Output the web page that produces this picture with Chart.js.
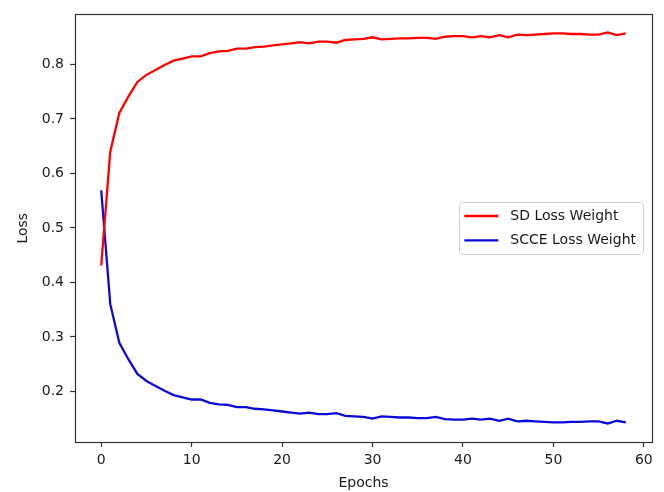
<!DOCTYPE html>
<html>
<head>
<meta charset="utf-8">
<script src="https://cdn.jsdelivr.net/npm/chart.js@4.4.1/dist/chart.umd.min.js"></script>
<style>
  html, body { margin: 0; padding: 0; background: #fff; }
  #wrap { width: 664px; height: 492px; }
</style>
</head>
<body>
<div id="wrap"><canvas id="lossChart" width="664" height="492"></canvas></div>
<script>
const epochs = [
  0, 1, 2, 3, 4, 5, 6, 7, 8, 9, 10, 11, 12, 13, 14, 15, 16, 17, 18, 19,
  20, 21, 22, 23, 24, 25, 26, 27, 28, 29, 30, 31, 32, 33, 34, 35, 36, 37, 38, 39,
  40, 41, 42, 43, 44, 45, 46, 47, 48, 49, 50, 51, 52, 53, 54, 55, 56, 57, 58
];

const sdWeight = [
  0.431, 0.640, 0.711, 0.741, 0.768, 0.781, 0.790, 0.799, 0.807, 0.811,
  0.815, 0.815, 0.821, 0.824, 0.825, 0.829, 0.829, 0.832, 0.833, 0.835,
  0.837, 0.839, 0.841, 0.839, 0.842, 0.842, 0.840, 0.845, 0.846, 0.847,
  0.850, 0.846, 0.847, 0.848, 0.848, 0.849, 0.849, 0.847, 0.851, 0.852,
  0.852, 0.850, 0.852, 0.850, 0.854, 0.850, 0.855, 0.854, 0.855, 0.856,
  0.857, 0.857, 0.856, 0.856, 0.855, 0.855, 0.859, 0.854, 0.857
];

const scceWeight = [
  0.569, 0.360, 0.289, 0.259, 0.232, 0.219, 0.210, 0.201, 0.193, 0.189,
  0.185, 0.185, 0.179, 0.176, 0.175, 0.171, 0.171, 0.168, 0.167, 0.165,
  0.163, 0.161, 0.159, 0.161, 0.158, 0.158, 0.160, 0.155, 0.154, 0.153,
  0.150, 0.154, 0.153, 0.152, 0.152, 0.151, 0.151, 0.153, 0.149, 0.148,
  0.148, 0.150, 0.148, 0.150, 0.146, 0.150, 0.145, 0.146, 0.145, 0.144,
  0.143, 0.143, 0.144, 0.144, 0.145, 0.145, 0.141, 0.146, 0.143
];

const xTicks = [0, 10, 20, 30, 40, 50, 60];
const yTicks = [0.2, 0.3, 0.4, 0.5, 0.6, 0.7, 0.8];

const FONT = { family: "'DejaVu Sans', sans-serif", size: 14 };
const INK = "#1a1a1a";
const LINE_W = 2.3;

const toPoints = (vals) => epochs.map((e, i) => ({ x: e, y: vals[i] }));

// axes frame on all four sides, plus a boxed legend at the right middle
const framePlugin = {
  id: "frameAndLegend",
  afterDraw(chart) {
    const { ctx, chartArea: a } = chart;
    ctx.save();
    ctx.strokeStyle = "#333";
    ctx.lineWidth = 1.2;
    ctx.strokeRect(Math.round(a.left) + 0.5, Math.round(a.top) + 0.5,
      Math.round(a.right - a.left), Math.round(a.bottom - a.top));

    ctx.font = `${FONT.size}px ${FONT.family}`;
    const sets = chart.data.datasets;
    const textW = Math.max(...sets.map((d) => ctx.measureText(d.label).width));
    const padL = 5, handle = 34, gap = 12, padR = 7;
    const w = padL + handle + gap + textW + padR;
    const h = 52;
    const right = a.right - 9;
    const left = right - w;
    const cy = (a.top + a.bottom) / 2;
    const top = cy - h / 2;

    ctx.beginPath();
    ctx.roundRect(Math.round(left) + 0.5, Math.round(top) + 0.5, Math.round(w), h, 3);
    ctx.fillStyle = "rgba(255,255,255,0.85)";
    ctx.fill();
    ctx.strokeStyle = "#d0d0d0";
    ctx.lineWidth = 1;
    ctx.stroke();

    const rowGap = 24.4;
    sets.forEach((d, i) => {
      const y = cy + (i - (sets.length - 1) / 2) * rowGap;
      ctx.beginPath();
      ctx.moveTo(left + padL, y);
      ctx.lineTo(left + padL + handle, y);
      ctx.strokeStyle = d.borderColor;
      ctx.lineWidth = LINE_W;
      ctx.stroke();
      ctx.fillStyle = INK;
      ctx.textBaseline = "middle";
      ctx.textAlign = "left";
      ctx.fillText(d.label, left + padL + handle + gap, y);
    });
    ctx.restore();
  }
};

new Chart(document.getElementById("lossChart"), {
  type: "line",
  data: {
    datasets: [
      { label: "SD Loss Weight", data: toPoints(sdWeight), borderColor: "#ff0000", borderWidth: LINE_W, pointRadius: 0, tension: 0 },
      { label: "SCCE Loss Weight", data: toPoints(scceWeight), borderColor: "#0a0ad8", borderWidth: LINE_W, pointRadius: 0, tension: 0 }
    ]
  },
  options: {
    responsive: false,
    devicePixelRatio: 1,
    animation: false,
    layout: { padding: { top: 13, right: 12, left: 0, bottom: 0 } },
    plugins: {
      legend: { display: false },
      tooltip: { enabled: false }
    },
    scales: {
      x: {
        type: "linear",
        min: -2.9,
        max: 60.9,
        afterBuildTicks: (s) => { s.ticks = xTicks.map((v) => ({ value: v })); },
        afterFit: (s) => { s.height = 50; },
        ticks: { font: FONT, color: INK, padding: 5, maxRotation: 0 },
        grid: { drawOnChartArea: false, tickLength: 5, tickColor: "#333", tickWidth: 1.2 },
        border: { display: false },
        title: { display: true, text: "Epochs", font: FONT, color: INK, padding: { top: 2, bottom: 0 } }
      },
      y: {
        min: 0.107,
        max: 0.892,
        afterBuildTicks: (s) => { s.ticks = yTicks.map((v) => ({ value: v })); },
        afterFit: (s) => { s.width = 75; },
        ticks: { font: FONT, color: INK, padding: 6, callback: (v) => v.toFixed(1) },
        grid: { drawOnChartArea: false, tickLength: 5, tickColor: "#333", tickWidth: 1.2 },
        border: { display: false },
        title: { display: true, text: "Loss", font: FONT, color: INK, padding: { top: 15, bottom: 0 } }
      }
    }
  },
  plugins: [framePlugin]
});
</script>
</body>
</html>
